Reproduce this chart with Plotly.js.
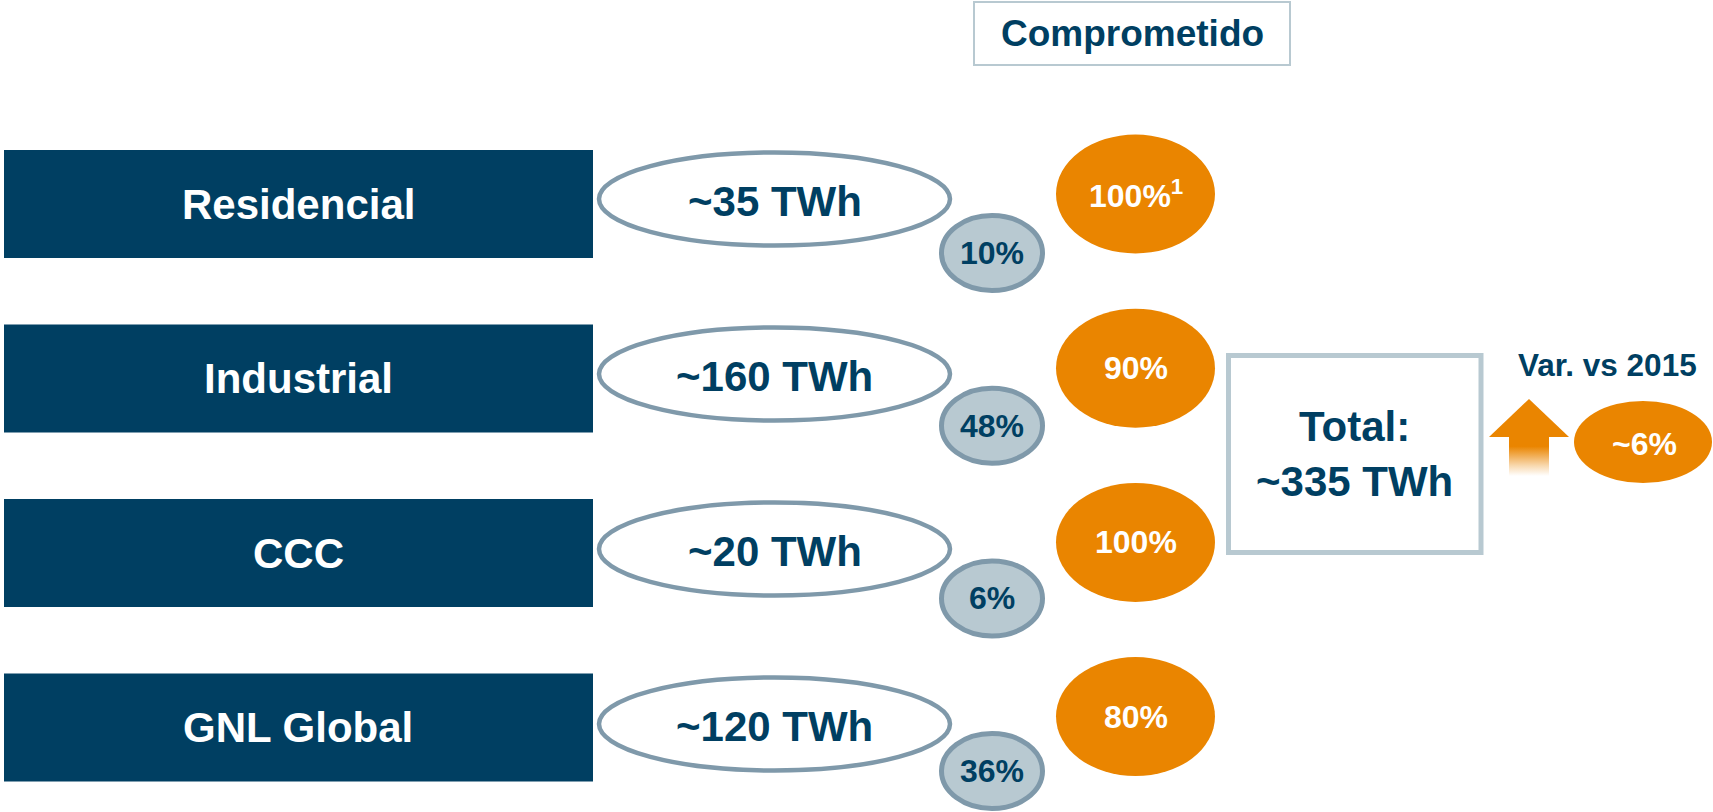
<!DOCTYPE html>
<html>
<head>
<meta charset="utf-8">
<script src="https://cdn.plot.ly/plotly-3.0.1.min.js"></script>
<style>
  html, body { margin: 0; padding: 0; background: #ffffff; overflow: hidden; }
  #chart { width: 1713px; height: 812px; }
</style>
</head>
<body>
<div id="chart"></div>
<script>
// Gas demand by segment, share of total and committed share

const headerLabel = 'Comprometido';
const segments = ['Residencial', 'Industrial', 'CCC', 'GNL Global'];
const volumesTWh = [35, 160, 20, 120];
const sharePct = [10, 48, 6, 36];
const committedPct = [100, 90, 100, 80];
const committedNote = ['1', '', '', ''];
const totalTWh = 335;
const variationLabel = 'Var. vs 2015';
const variationPct = 6;

// Colours
const NAVY = '#003f62';
const STEEL = '#7f99aa';
const PALE = '#b8c9d1';
const ORANGE = '#ea8500';
const FONT = 'Liberation Sans, Arial, Helvetica, sans-serif';

// Ellipse shape centred on (cx, cy)
function ellipse(cx, cy, rx, ry, fill, line) {
    return {
        type: 'circle', xref: 'x', yref: 'y',
        x0: cx - rx, x1: cx + rx, y0: cy - ry, y1: cy + ry,
        fillcolor: fill, line: line || { width: 0 }
    };
}

function label(x, y, text, size, color) {
    return {
        x: x, y: y, xref: 'x', yref: 'y',
        text: '<b>' + text + '</b>',
        showarrow: false,
        xanchor: 'center', yanchor: 'middle',
        font: { family: FONT, size: size, color: color }
    };
}

const shapes = [];
const annotations = [];

// Header box
shapes.push({
    type: 'rect', xref: 'x', yref: 'y',
    x0: 974, x1: 1290, y0: 2, y1: 65,
    line: { color: PALE, width: 2 }, fillcolor: '#ffffff'
});
annotations.push(label(1132, 33, headerLabel, 37, NAVY));

segments.forEach((seg, i) => {
    const top = 150 + i * 174.5;
    const mid = top + 54;

    // segment bar
    shapes.push({
        type: 'rect', xref: 'x', yref: 'y',
        x0: 4, x1: 593, y0: top, y1: top + 108,
        line: { width: 0 }, fillcolor: NAVY
    });
    annotations.push(label(298, mid, seg, 42, '#ffffff'));

    // volume ellipse
    const vy = 199 + i * 175;
    shapes.push(ellipse(774.5, vy, 175.5, 46.5, '#ffffff', { color: STEEL, width: 4.5 }));
    annotations.push(label(774.5, vy + 2, '~' + volumesTWh[i] + ' TWh', 42, NAVY));

    // share badge
    const sy = 253 + i * 172.7;
    shapes.push(ellipse(992, sy, 50.5, 37.5, PALE, { color: STEEL, width: 5 }));
    annotations.push(label(992, sy, sharePct[i] + '%', 32, NAVY));

    // committed share
    const cy = 194 + i * 174.2;
    shapes.push(ellipse(1135.5, cy, 79.5, 59.5, ORANGE));
    const note = committedNote[i] ? '<sup>' + committedNote[i] + '</sup>' : '';
    annotations.push(label(1135.5, cy, committedPct[i] + '%' + note, 32, '#ffffff'));
});

// Total box
shapes.push({
    type: 'rect', xref: 'x', yref: 'y',
    x0: 1228.5, x1: 1481, y0: 355.5, y1: 552.5,
    line: { color: PALE, width: 5 }, fillcolor: '#ffffff'
});
annotations.push(label(1354, 454, 'Total:<br>~' + totalTWh + ' TWh', 42, NAVY));

// Variation vs 2015
annotations.push(label(1607, 365, variationLabel, 31.5, NAVY));
shapes.push({
    type: 'path', xref: 'x', yref: 'y',
    path: 'M 1489,437 L 1529,399 L 1569,437 Z',
    line: { width: 0 }, fillcolor: ORANGE
});
shapes.push(ellipse(1643, 442, 69, 41, ORANGE));
annotations.push(label(1644, 444, '~' + variationPct + '%', 32, '#ffffff'));

// Arrow shaft fading out downwards
const shaft = {
    x: [1509, 1549, 1549, 1509, 1509],
    y: [436.5, 436.5, 476, 476, 436.5],
    type: 'scatter',
    mode: 'none',
    fill: 'toself',
    fillgradient: {
        type: 'vertical',
        start: 476,
        stop: 436.5,
        colorscale: [
            [0, 'rgba(234,133,0,0)'],
            [0.25, 'rgba(234,133,0,0.3)'],
            [0.75, 'rgba(234,133,0,1)'],
            [1, 'rgba(234,133,0,1)']
        ]
    },
    hoverinfo: 'skip',
    showlegend: false
};

const layout = {
    width: 1713,
    height: 812,
    margin: { t: 0, r: 0, b: 0, l: 0 },
    paper_bgcolor: '#ffffff',
    plot_bgcolor: '#ffffff',
    xaxis: { range: [0, 1713], visible: false, fixedrange: true },
    yaxis: { range: [812, 0], visible: false, fixedrange: true },
    showlegend: false,
    shapes: shapes,
    annotations: annotations
};

Plotly.newPlot('chart', [shaft], layout, { displayModeBar: false, staticPlot: true });
</script>
</body>
</html>
